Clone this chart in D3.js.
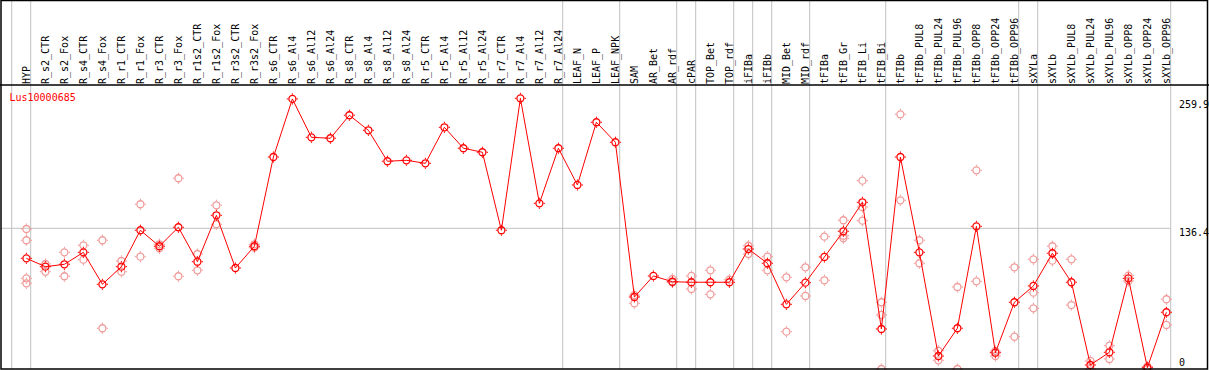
<!DOCTYPE html>
<html>
  <head>
    <meta charset="utf-8">
    <script src="https://cdn.jsdelivr.net/npm/d3@7"></script>
    <style>
      body {
        margin: 0;
      }

      text {
        font-family: "DejaVu Sans Mono", monospace;
        font-size: 10px;
      }

      .grid {
        stroke: #c0c0c0;
        stroke-width: 1px;
      }

      .frame {
        stroke: #000;
        stroke-width: 1.5px;
      }

      .mean-line {
        fill: none;
        stroke: red;
        stroke-width: 1px;
      }

      .mean {
        fill: none;
        stroke: red;
      }

      .rep {
        fill: none;
        stroke: #f09a9a;
      }

      circle {
        stroke-width: 1.3px;
      }

      .tick-mark {
        stroke-width: 1px;
      }
    </style>
  </head>
  <body>
    <script>
      const geneName = 'Lus10000685';

      const samples = [
        'HYP', 'R_s2_CTR', 'R_s2_Fox', 'R_s4_CTR', 'R_s4_Fox', 'R_r1_CTR', 'R_r1_Fox',
        'R_r3_CTR', 'R_r3_Fox', 'R_r1s2_CTR', 'R_r1s2_Fox', 'R_r3s2_CTR', 'R_r3s2_Fox',
        'R_s6_CTR', 'R_s6_Al4', 'R_s6_Al12', 'R_s6_Al24', 'R_s8_CTR', 'R_s8_Al4',
        'R_s8_Al12', 'R_s8_Al24', 'R_r5_CTR', 'R_r5_Al4', 'R_r5_Al12', 'R_r5_Al24',
        'R_r7_CTR', 'R_r7_Al4', 'R_r7_Al12', 'R_r7_Al24', 'LEAF_N', 'LEAF_P', 'LEAF_NPK',
        'SAM', 'AR_Bet', 'AR_rdf', 'cPAR', 'TOP_Bet', 'TOP_rdf', 'iFIBa', 'iFIBb',
        'MID_Bet', 'MID_rdf', 'tFIBa', 'tFIB_Gr', 'tFIB_Li', 'tFIB_Bi', 'tFIBb',
        'tFIBb_PUL8', 'tFIBb_PUL24', 'tFIBb_PUL96', 'tFIBb_OPP8', 'tFIBb_OPP24',
        'tFIBb_OPP96', 'sXYLa', 'sXYLb', 'sXYLb_PUL8', 'sXYLb_PUL24', 'sXYLb_PUL96',
        'sXYLb_OPP8', 'sXYLb_OPP24', 'sXYLb_OPP96'
      ];

      const means = [
        107.3, 99.2, 101.5, 113.1, 82.1, 99.2, 134.5, 119.0, 137.4, 104.0, 149.0, 97.9, 119.0,
        205.5, 261.8, 224.6, 223.7, 246.0, 231.4, 201.4, 202.3, 199.4, 234.3, 214.0, 210.1,
        134.5, 262.4, 160.6, 214.0, 178.4, 239.2, 219.8,
        69.8, 90.2, 84.6, 84.1, 84.1, 84.1, 116.3, 102.5, 62.7, 83.7, 108.6, 133.5, 161.6,
        38.8, 205.5, 113.1, 12.6, 39.5, 138.3, 15.8, 64.7, 80.5, 112.2, 84.1, 3.9, 16.2,
        87.9, 1.3, 55.0
      ];

      const replicates = [
        [135.7, 124.8, 87.9, 83.1], [101.8, 94.3], [113.1, 89.9], [119.9, 106.0],
        [124.8, 39.5], [104.7, 94.3], [159.7, 108.9], [120.9, 117.0], [184.9, 89.9],
        [111.5, 95.7], [158.7, 140.3], [], [120.9, 117.6],
        [], [], [], [], [], [], [], [], [], [], [], [],
        [], [], [], [], [], [], [],
        [71.7, 63.7], [], [87.3, 84.1], [90.2, 77.6], [95.7, 72.4], [86.6],
        [119.5, 111.5], [108.9, 95.7], [88.9, 36.2], [98.6, 70.8], [128.3, 86.0],
        [144.2, 129.2, 126.7], [182.6, 157.1, 143.8], [64.7, 52.4, 0], [246.9, 163.5],
        [124.8, 102.5], [17.7, 8.4], [79.5, 0], [192.6, 85.0], [17.5, 12.6],
        [98.6, 31.3], [106.3, 74.0, 58.8], [119.0, 105.0], [106.3, 62.0], [7.8, 0],
        [22.6, 9.7], [90.5, 85.3], [0, 2.6], [67.6, 42.7]
      ];

      const groupEnds = [
        'HYP', 'R_r7_Al24', 'LEAF_NPK', 'AR_rdf', 'cPAR', 'TOP_rdf', 'iFIBa', 'iFIBb',
        'MID_rdf', 'tFIB_Bi', 'tFIBb_OPP96', 'sXYLa', 'sXYLb_OPP96'
      ];

      const yTicks = [0, 136.4, 259.9];
      const yTickLabels = ['0', '136.4', '259.9'];

      const width = 1209;
      const height = 370;
      const headerBottom = 85;
      const plotBottom = 369;

      const x = d3.scaleBand()
        .domain(samples)
        .range([11.7, 1170.7]);

      const px = d => x(d) + 14.7;

      const y = d3.scaleLinear()
        .domain([0, 259.9])
        .range([plotBottom, 100.9]);

      const svg = d3.select('body')
        .append('svg')
        .attr('width', width)
        .attr('height', height);

      svg.append('line')
        .classed('grid', true)
        .attr('x1', 1)
        .attr('x2', x.range()[1])
        .attr('y1', y(136.4))
        .attr('y2', y(136.4));

      const seps = [x.range()[0]].concat(groupEnds.map(d => x(d) + x.bandwidth()));
      svg.selectAll('.sep').data(seps)
        .enter()
        .append('line')
        .classed('grid', true)
        .attr('x1', d => d)
        .attr('x2', d => d)
        .attr('y1', 0)
        .attr('y2', plotBottom);

      svg.selectAll('.col-label').data(samples)
        .enter()
        .append('text')
        .attr('transform', d => `translate(${x(d) + 18.3},84) rotate(-90)`)
        .attr('fill', '#000')
        .text(d => d);

      const marker = 'M0,-4.2V-5.6M0,4.2V5.6M-4.2,0H-5.6M4.2,0H5.6';

      const repPoints = [];
      samples.forEach((s, i) => replicates[i].forEach(v => repPoints.push({s, v})));

      const reps = svg.selectAll('.rep').data(repPoints)
        .enter()
        .append('g')
        .classed('rep', true)
        .attr('transform', d => `translate(${px(d.s)},${y(d.v)})`);
      reps.append('circle').attr('r', 3.5);
      reps.append('path').classed('tick-mark', true).attr('d', marker);

      const line = d3.line()
        .x((d, i) => px(samples[i]))
        .y(d => y(d));

      svg.append('path')
        .datum(means)
        .classed('mean-line', true)
        .attr('d', line);

      const dots = svg.selectAll('.mean').data(means)
        .enter()
        .append('g')
        .classed('mean', true)
        .attr('transform', (d, i) => `translate(${px(samples[i])},${y(d)})`);
      dots.append('circle').attr('r', 3.5);
      dots.append('path').classed('tick-mark', true).attr('d', marker);

      svg.selectAll('.y-label').data(yTicks)
        .enter()
        .append('text')
        .attr('x', 1179)
        .attr('y', d => Math.min(y(d) + 7.5, 365.5))
        .attr('fill', '#000')
        .text((d, i) => yTickLabels[i]);

      svg.append('text')
        .attr('x', 9.5)
        .attr('y', 101)
        .attr('fill', 'red')
        .text(geneName);

      svg.append('rect')
        .classed('frame', true)
        .attr('x', 1)
        .attr('y', 0.5)
        .attr('width', 1206.5)
        .attr('height', plotBottom - 0.5)
        .attr('fill', 'none');

      svg.append('line')
        .classed('frame', true)
        .attr('x1', 0)
        .attr('x2', width)
        .attr('y1', headerBottom)
        .attr('y2', headerBottom);
    </script>
  </body>
</html>
